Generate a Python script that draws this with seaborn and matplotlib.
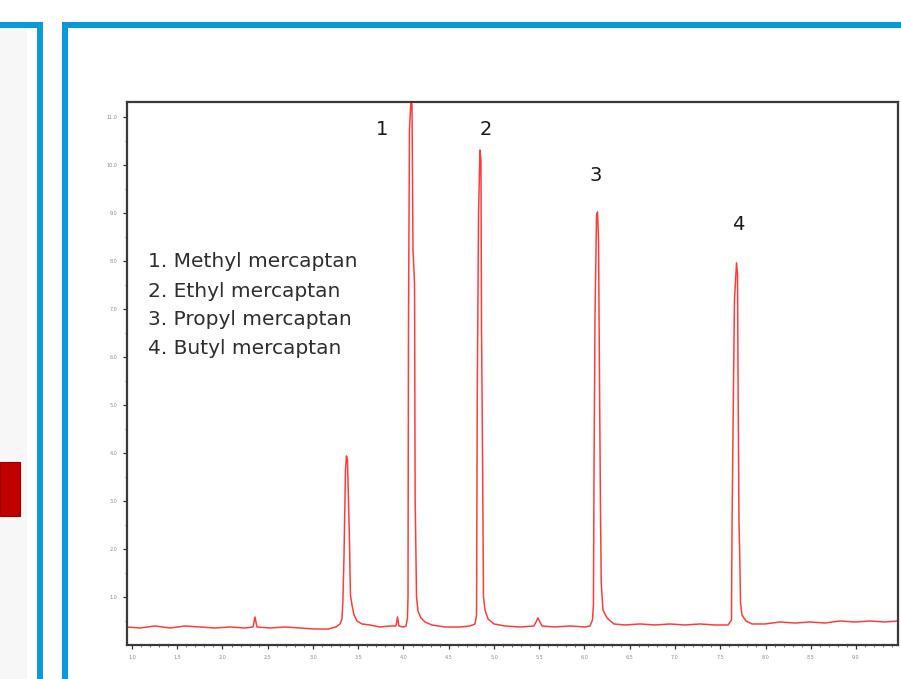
import numpy as np
import pandas as pd
import matplotlib
matplotlib.use("Agg")
import matplotlib.pyplot as plt
from matplotlib.patches import Rectangle
import seaborn as sns

# ---- data (retention time, signal) ----
time_min = [0.945, 1.088, 1.254, 1.420, 1.586, 1.751, 1.917, 2.083, 2.249, 2.337,
            2.359, 2.381, 2.525, 2.691, 2.856, 3.022, 3.166, 3.254, 3.298,
            3.320, 3.331, 3.343, 3.359, 3.370, 3.381, 3.392, 3.403, 3.414, 3.431,
            3.453, 3.486, 3.541, 3.630, 3.740, 3.851, 3.917, 3.934, 3.950, 3.994,
            4.028, 4.044, 4.050, 4.055, 4.066, 4.081, 4.094, 4.105, 4.122, 4.129,
            4.144, 4.160, 4.193, 4.238, 4.315, 4.459, 4.624, 4.735,
            4.790, 4.807, 4.815, 4.829, 4.845, 4.856, 4.862, 4.873, 4.884, 4.901,
            4.934, 5.000, 5.122, 5.287, 5.442, 5.486, 5.530, 5.674, 5.840, 6.006,
            6.061, 6.088, 6.099, 6.105, 6.116, 6.133, 6.144, 6.155, 6.166, 6.177,
            6.185, 6.204, 6.249, 6.326, 6.448, 6.613, 6.779, 6.945, 7.110, 7.276,
            7.442, 7.586, 7.624, 7.630, 7.641, 7.657, 7.680, 7.691, 7.696, 7.707,
            7.716, 7.724, 7.740, 7.785, 7.851, 7.994, 8.160, 8.326, 8.492, 8.657,
            8.823, 8.989, 9.155, 9.320, 9.464]
signal = [0.375, 0.354, 0.396, 0.354, 0.396, 0.375, 0.354, 0.375, 0.354, 0.375,
          0.583, 0.375, 0.354, 0.375, 0.354, 0.333, 0.333, 0.375, 0.438,
          0.542, 0.938, 1.875, 3.646, 3.938, 3.854, 3.020, 2.188, 1.042, 0.833,
          0.625, 0.500, 0.438, 0.417, 0.375, 0.396, 0.396, 0.583, 0.396, 0.375,
          0.396, 0.563, 1.000, 6.563, 10.73, 11.29, 11.27, 8.230, 7.540, 3.040,
          1.000, 0.708, 0.563, 0.479, 0.417, 0.375, 0.375, 0.396,
          0.438, 0.625, 5.100, 8.960, 10.31, 10.10, 6.670, 4.060, 1.000, 0.729,
          0.542, 0.438, 0.396, 0.375, 0.396, 0.563, 0.396, 0.375, 0.396, 0.375,
          0.396, 0.521, 0.833, 3.500, 6.830, 8.960, 9.020, 8.440, 5.460, 2.750,
          1.290, 0.729, 0.563, 0.438, 0.417, 0.438, 0.417, 0.438, 0.417, 0.438,
          0.417, 0.417, 0.521, 2.400, 4.480, 7.190, 7.960, 7.710, 5.790, 2.540,
          1.830, 0.875, 0.625, 0.500, 0.438, 0.438, 0.479, 0.458, 0.479, 0.458,
          0.500, 0.479, 0.500, 0.479, 0.500]

x_ticks = [1.0, 1.5, 2.0, 2.5, 3.0, 3.5, 4.0, 4.5, 5.0, 5.5, 6.0, 6.5, 7.0, 7.5, 8.0, 8.5, 9.0]
y_ticks = [1, 2, 3, 4, 5, 6, 7, 8, 9, 10, 11]

peak_labels = ["1", "2", "3", "4"]
peak_label_t = [3.762, 4.912, 6.127, 7.696]
peak_label_y = [10.73, 10.73, 9.77, 8.75]

compounds = ["1. Methyl mercaptan", "2. Ethyl mercaptan",
             "3. Propyl mercaptan", "4. Butyl mercaptan"]
compound_y = [7.98, 7.37, 6.77, 6.17]

df = pd.DataFrame({"time": time_min, "signal": signal})

sns.set_theme(style="white")
plt.rcParams["font.family"] = ["DejaVu Sans"]

W, H = 901, 679
fig = plt.figure(figsize=(W / 100, H / 100), dpi=100)
fig.patch.set_facecolor("white")

blue = "#0a9ad9"
# left (neighbouring) panel decorations
fig.add_artist(Rectangle((0, 0), 27 / W, 1 - 27 / H, transform=fig.transFigure,
                         facecolor="#f7f7f7", edgecolor="none", zorder=0))
fig.add_artist(Rectangle((0, 1 - 516 / H), 20 / W, 54 / H, transform=fig.transFigure,
                         facecolor="#c20000", edgecolor="#9a0000", lw=0.8, zorder=1))
fig.add_artist(Rectangle((37 / W, 0), 5.5 / W, 1 - 22 / H, transform=fig.transFigure,
                         facecolor=blue, edgecolor="none", zorder=2))
fig.add_artist(Rectangle((0, 1 - 27.5 / H), 42.5 / W, 5.5 / H, transform=fig.transFigure,
                         facecolor=blue, edgecolor="none", zorder=2))
# right panel border
fig.add_artist(Rectangle((62 / W, 0), 5.5 / W, 1 - 22 / H, transform=fig.transFigure,
                         facecolor=blue, edgecolor="none", zorder=2))
fig.add_artist(Rectangle((62 / W, 1 - 27.5 / H), 1 - 62 / W, 5.5 / H, transform=fig.transFigure,
                         facecolor=blue, edgecolor="none", zorder=2))

ax = fig.add_axes([127 / W, 1 - 645 / H, (898 - 127) / W, (645 - 102) / H])
ax.set_facecolor("white")
sns.lineplot(data=df, x="time", y="signal", ax=ax, sort=False, estimator=None,
             color="#ff1a1a", lw=1.1, alpha=0.85)

ax.set_xlim(0.945, 9.464)
ax.set_ylim(0, 11.31)
ax.set_xlabel("")
ax.set_ylabel("")

ax.set_xticks(x_ticks)
ax.set_xticklabels([f"{v:.1f}" for v in x_ticks])
ax.set_xticks(np.arange(1.0, 9.45, 0.1), minor=True)
ax.set_yticks(y_ticks)
ax.set_yticklabels([f"{v:.1f}" for v in y_ticks])
ax.set_yticks(np.arange(0.5, 11.3, 1.0), minor=True)
ax.tick_params(axis="both", which="major", length=3, width=0.9, color="#333333",
               labelsize=3.5, labelcolor="#888888", pad=4, bottom=True, left=True)
ax.tick_params(axis="both", which="minor", length=1.5, width=0.6, color="#555555",
               bottom=True, left=True)
for side, sp in ax.spines.items():
    sp.set_color("#3a3a3a")
    sp.set_linewidth(1.6)

for lab, tx, ty in zip(peak_labels, peak_label_t, peak_label_y):
    ax.text(tx, ty, lab, ha="center", va="center", fontsize=14, color="#1a1a1a")

for name, cy in zip(compounds, compound_y):
    ax.text(1.177, cy, name, ha="left", va="center", fontsize=14.5, color="#2e2e2e")

fig.savefig("out.png", dpi=100, facecolor="white")
